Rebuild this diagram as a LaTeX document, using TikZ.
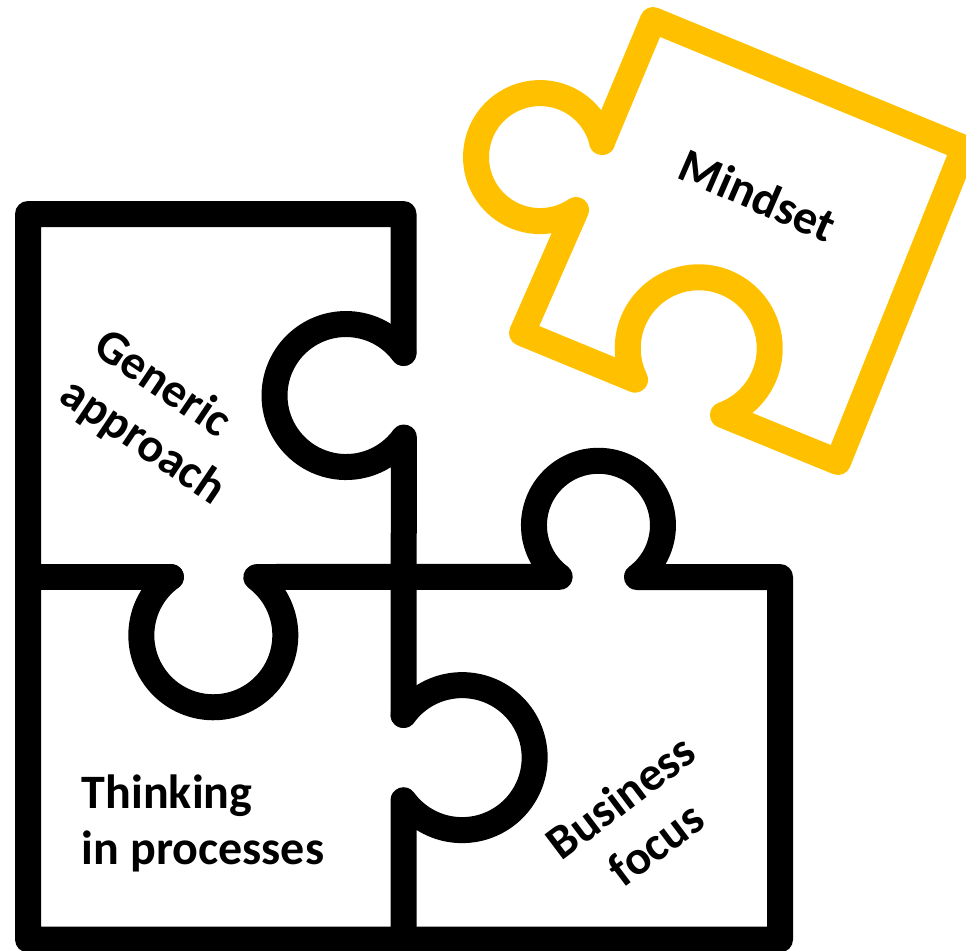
\documentclass[tikz,border=0pt]{standalone}
\usepackage{fontspec}
\setmainfont{Carlito}
\definecolor{pieceyellow}{HTML}{FFC000}
\tikzset{
  piece/.style={line width=19.5pt,line cap=round,line join=round},
  lbl/.style={font=\fontsize{36}{42}\selectfont\bfseries,align=left,inner sep=0pt,text=black},
  lblwide/.style={lbl,font=\fontsize{36}{44}\selectfont\bfseries,align=center}
}
\begin{document}
\begin{tikzpicture}[x=0.75pt,y=-0.75pt]
\useasboundingbox (0,0) rectangle (966,950);
% black pieces
\draw[piece] (403.5,353) arc[start angle=-36.5,end angle=-324,radius=71.5] -- (403.5,715);
\draw[piece] (403.5,353) -- (403.5,214) -- (28,214) -- (28,939.5) -- (780,939.5) -- (780,577) -- (637,577)
  arc[start angle=413.3,end angle=127,radius=64.5] -- (257,577);
\draw[piece] (171,577) -- (28,577);
\draw[piece] (171,577) arc[start angle=234,end angle=-53.4,radius=72];
\draw[piece] (403.5,715) arc[start angle=-144,end angle=144,radius=72.5] -- (403.5,939.5);
% yellow piece
\draw[piece,draw=pieceyellow] (602,142) -- (653,20) -- (964,148) -- (838,462) -- (723,415)
  arc[start angle=70,end angle=-206.2,radius=71] -- (522,333) -- (576,210)
  arc[start angle=-304.2,end angle=-13.6,radius=64] -- cycle;
% labels
\node[lbl,rotate=-23.5] (mindset) at (758,195) {Mindset};
\node[lblwide,rotate=-34] (generic) at (159,418) {Generic\hspace*{24pt}\\approach};
\node[lbl] (thinking) at (203,823) {Thinking\\in processes};
\node[lblwide,rotate=37] (business) at (638,820) {Business\\focus};
\end{tikzpicture}
\end{document}
